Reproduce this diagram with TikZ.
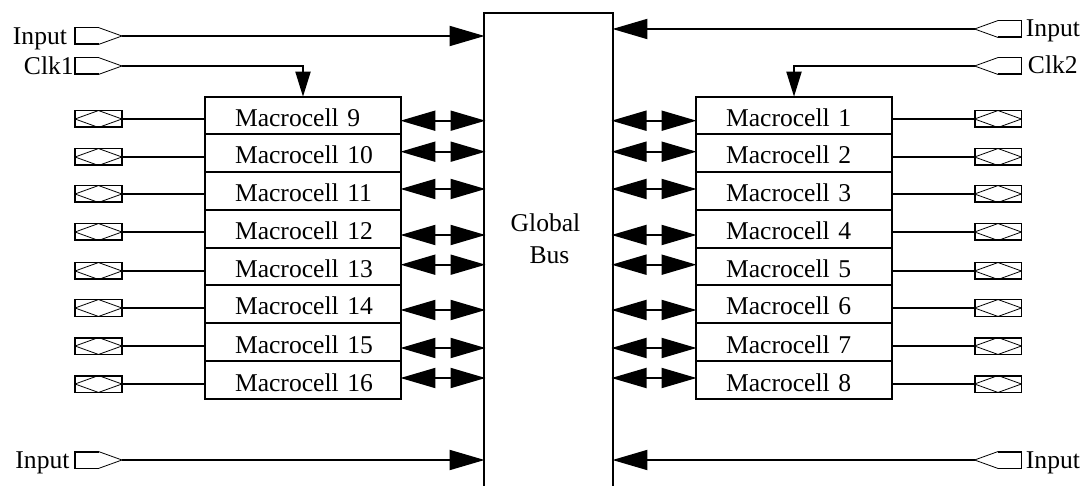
\documentclass[tikz,border=0pt]{standalone}
\usepackage{fontspec}
\setmainfont{Liberation Serif}
\usetikzlibrary{arrows.meta}
\tikzset{
  every node/.style={font=\fontsize{25.6}{30}\selectfont,inner sep=0pt},
  cell/.style={draw,minimum height=37.7pt,text width=166pt,inner xsep=15pt,align=left,text height=22pt,text depth=0pt,
    execute at begin node={\hspace*{15pt}}},
  iopad/.style={minimum width=45pt,minimum height=15pt,
    append after command={
      (\tikzlastnode.south west) edge[-,to path={rectangle (\tikztotarget)}] (\tikzlastnode.north east)
      (\tikzlastnode.west) edge[-,line width=0.8pt] (\tikzlastnode.north)
      (\tikzlastnode.north) edge[-,line width=0.8pt] (\tikzlastnode.east)
      (\tikzlastnode.east) edge[-,line width=0.8pt] (\tikzlastnode.south)
      (\tikzlastnode.south) edge[-,line width=0.8pt] (\tikzlastnode.west)}},
  inpadr/.style={minimum width=45pt,minimum height=15pt,
    append after command={
      (\tikzlastnode.north) edge[-,to path={-| (\tikzlastnode.west) |- (\tikzlastnode.south)}] (\tikzlastnode.south)
      (\tikzlastnode.north) edge[-,line width=0.8pt] (\tikzlastnode.east)
      (\tikzlastnode.south) edge[-,line width=0.8pt] (\tikzlastnode.east)}},
  inpadl/.style={minimum width=45pt,minimum height=15pt,
    append after command={
      (\tikzlastnode.north) edge[-,to path={-| (\tikzlastnode.east) |- (\tikzlastnode.south)}] (\tikzlastnode.south)
      (\tikzlastnode.north) edge[-,line width=0.8pt] (\tikzlastnode.west)
      (\tikzlastnode.south) edge[-,line width=0.8pt] (\tikzlastnode.west)}},
  bigtip/.style={-{Triangle[length=35pt,width=20pt]},shorten >=-1.5pt},
  twotip/.style={{Triangle[length=35pt,width=20pt]}-{Triangle[length=35pt,width=20pt]},shorten >=-1.5pt,shorten <=-1.5pt},
  clktip/.style={-{Triangle[length=25pt,width=15pt]},shorten >=-1pt},
  label/.style={anchor=base west}
}
\begin{document}
\begin{tikzpicture}[x=1pt,y=-1pt,line width=1.9pt]
\useasboundingbox (0,0) rectangle (1084,486);
% BUS
\node[draw,minimum width=129pt,minimum height=482pt] (bus) at (548.5,254) {};
\node[align=center] (buslabel) at (545.5,239) {Global\\[2pt]\hspace*{8pt}Bus};
% LEFT CELLS
\node[cell] (cell9) at (303,115.5) {Macrocell 9};
\node[cell] (cell10) at (303,153) {Macrocell 10};
\node[cell] (cell11) at (303,191) {Macrocell 11};
\node[cell] (cell12) at (303,229) {Macrocell 12};
\node[cell] (cell13) at (303,266.5) {Macrocell 13};
\node[cell] (cell14) at (303,304) {Macrocell 14};
\node[cell] (cell15) at (303,342) {Macrocell 15};
\node[cell] (cell16) at (303,380) {Macrocell 16};
% RIGHT CELLS
\node[cell] (cell1) at (794,115.5) {Macrocell 1};
\node[cell] (cell2) at (794,153) {Macrocell 2};
\node[cell] (cell3) at (794,191) {Macrocell 3};
\node[cell] (cell4) at (794,229) {Macrocell 4};
\node[cell] (cell5) at (794,266.5) {Macrocell 5};
\node[cell] (cell6) at (794,304) {Macrocell 6};
\node[cell] (cell7) at (794,342) {Macrocell 7};
\node[cell] (cell8) at (794,380) {Macrocell 8};
% LEFT PADS
\node[iopad] (pad9) at (98.5,119) {};
\node[iopad] (pad10) at (98.5,157) {};
\node[iopad] (pad11) at (98.5,194) {};
\node[iopad] (pad12) at (98.5,232) {};
\node[iopad] (pad13) at (98.5,271) {};
\node[iopad] (pad14) at (98.5,308) {};
\node[iopad] (pad15) at (98.5,346) {};
\node[iopad] (pad16) at (98.5,384) {};
% RIGHT PADS
\node[iopad] (pad1) at (998,119) {};
\node[iopad] (pad2) at (998,157) {};
\node[iopad] (pad3) at (998,194) {};
\node[iopad] (pad4) at (998,232) {};
\node[iopad] (pad5) at (998,271) {};
\node[iopad] (pad6) at (998,308) {};
\node[iopad] (pad7) at (998,346) {};
\node[iopad] (pad8) at (998,384) {};
% INPUTS
\node[inpadr] (inA) at (98.5,36) {};
\node[inpadr] (clkA) at (98.5,66) {};
\node[inpadr] (inB) at (98.5,460) {};
\node[inpadl] (inC) at (998,29) {};
\node[inpadl] (clkB) at (998,66) {};
\node[inpadl] (inD) at (998,460) {};
% INPUT NAMES
\node[label] (nameA) at (12,44.3) {Input};
\node[label] (nameB) at (23,75) {Clk1};
\node[label] (nameC) at (14.5,468) {Input};
\node[label] (nameD) at (1025,36.7) {Input};
\node[label] (nameE) at (1027,74) {Clk2};
\node[label] (nameF) at (1025,468) {Input};
% BUS LINKS
\coordinate (link9) at (484,120.7);
\coordinate (link10) at (484,151.7);
\coordinate (link11) at (484,189);
\coordinate (link12) at (484,235);
\coordinate (link13) at (484,264.7);
\coordinate (link14) at (484,310);
\coordinate (link15) at (484,348);
\coordinate (link16) at (484,378);
\coordinate (link1) at (613,120.7);
\coordinate (link2) at (613,151.7);
\coordinate (link3) at (613,189);
\coordinate (link4) at (613,235);
\coordinate (link5) at (613,264.7);
\coordinate (link6) at (613,310);
\coordinate (link7) at (613,348);
\coordinate (link8) at (613,378);
% CONNECTIONS
\draw[bigtip] (inA.east) -- (inA.east -| bus.west);
\draw[bigtip] (inB.east) -- (inB.east -| bus.west);
\draw[bigtip] (inC.west) -- (inC.west -| bus.east);
\draw[bigtip] (inD.west) -- (inD.west -| bus.east);
\draw[clktip] (clkA.east) -| (cell9.north);
\draw[clktip] (clkB.west) -| (cell1.north);

\draw (pad9.east) -- (pad9.east -| cell9.west);
\draw (pad10.east) -- (pad10.east -| cell10.west);
\draw (pad11.east) -- (pad11.east -| cell11.west);
\draw (pad12.east) -- (pad12.east -| cell12.west);
\draw (pad13.east) -- (pad13.east -| cell13.west);
\draw (pad14.east) -- (pad14.east -| cell14.west);
\draw (pad15.east) -- (pad15.east -| cell15.west);
\draw (pad16.east) -- (pad16.east -| cell16.west);

\draw (pad1.west) -- (pad1.west -| cell1.east);
\draw (pad2.west) -- (pad2.west -| cell2.east);
\draw (pad3.west) -- (pad3.west -| cell3.east);
\draw (pad4.west) -- (pad4.west -| cell4.east);
\draw (pad5.west) -- (pad5.west -| cell5.east);
\draw (pad6.west) -- (pad6.west -| cell6.east);
\draw (pad7.west) -- (pad7.west -| cell7.east);
\draw (pad8.west) -- (pad8.west -| cell8.east);

\draw[twotip] (link9 -| cell9.east) -- (link9);
\draw[twotip] (link10 -| cell10.east) -- (link10);
\draw[twotip] (link11 -| cell11.east) -- (link11);
\draw[twotip] (link12 -| cell12.east) -- (link12);
\draw[twotip] (link13 -| cell13.east) -- (link13);
\draw[twotip] (link14 -| cell14.east) -- (link14);
\draw[twotip] (link15 -| cell15.east) -- (link15);
\draw[twotip] (link16 -| cell16.east) -- (link16);

\draw[twotip] (link1) -- (link1 -| cell1.west);
\draw[twotip] (link2) -- (link2 -| cell2.west);
\draw[twotip] (link3) -- (link3 -| cell3.west);
\draw[twotip] (link4) -- (link4 -| cell4.west);
\draw[twotip] (link5) -- (link5 -| cell5.west);
\draw[twotip] (link6) -- (link6 -| cell6.west);
\draw[twotip] (link7) -- (link7 -| cell7.west);
\draw[twotip] (link8) -- (link8 -| cell8.west);
\end{tikzpicture}
\end{document}
